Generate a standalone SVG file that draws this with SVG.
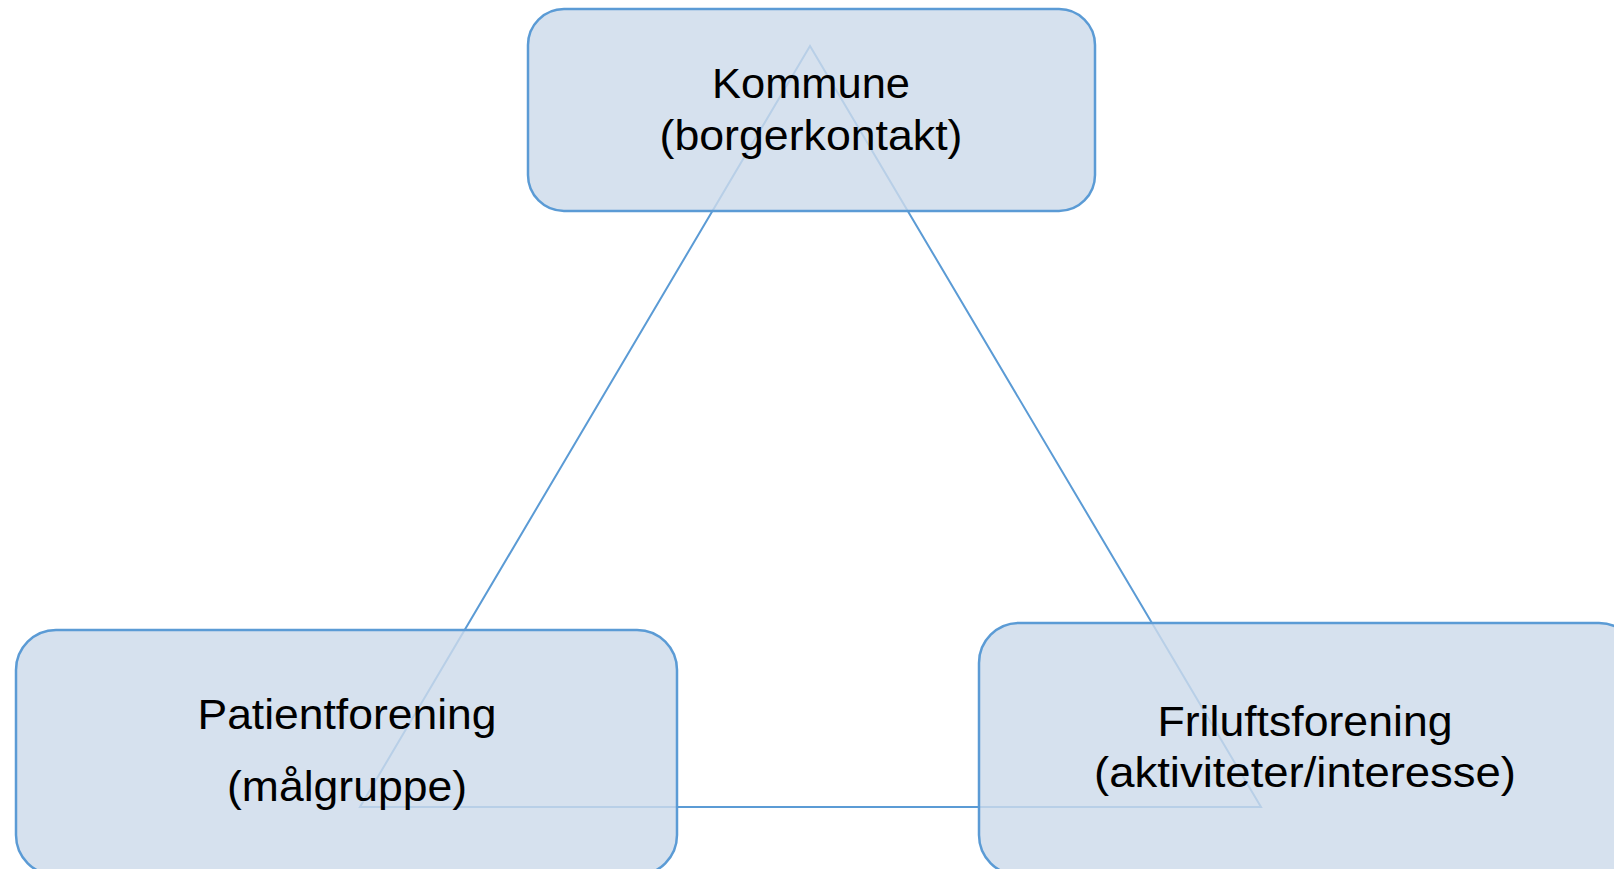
<svg xmlns="http://www.w3.org/2000/svg" width="1614" height="869" viewBox="0 0 1614 869">
<style>
.box{fill:rgb(205,218,234);fill-opacity:0.82;stroke:#5b9bd5;stroke-width:2.5}
.edge{fill:none;stroke:#5b9bd5;stroke-width:2}
.lbl{font-family:"Liberation Sans",Arial,sans-serif;font-size:42px;fill:#000;text-anchor:middle}
</style>
<rect width="1614" height="869" fill="#fff"/>
<g id="connectors">
<polygon class="edge" points="810,46 360,807 1261,807"/>
</g>
<g id="kommune">
<rect class="box" x="528" y="9" width="567" height="202" rx="36"/>
<text class="lbl" x="811" y="98" textLength="198" lengthAdjust="spacingAndGlyphs">Kommune</text>
<text class="lbl" x="811" y="150" textLength="303" lengthAdjust="spacingAndGlyphs">(borgerkontakt)</text>
</g>
<g id="patientforening">
<rect class="box" x="16" y="630" width="661" height="245" rx="40"/>
<text class="lbl" x="347" y="729" textLength="299" lengthAdjust="spacingAndGlyphs">Patientforening</text>
<text class="lbl" x="347" y="801" textLength="240" lengthAdjust="spacingAndGlyphs">(målgruppe)</text>
</g>
<g id="friluftsforening">
<rect class="box" x="979" y="623" width="660" height="252" rx="40"/>
<text class="lbl" x="1305" y="736" textLength="295" lengthAdjust="spacingAndGlyphs">Friluftsforening</text>
<text class="lbl" x="1305" y="787" textLength="422" lengthAdjust="spacingAndGlyphs">(aktiviteter/interesse)</text>
</g>
</svg>
